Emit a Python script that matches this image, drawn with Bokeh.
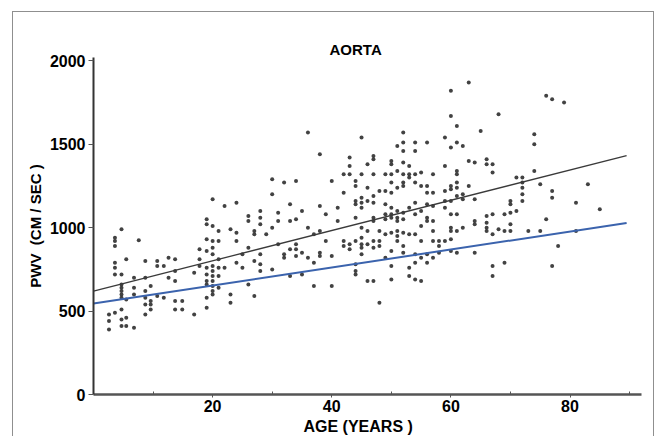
from bokeh.plotting import figure
from bokeh.models import Range1d, FixedTicker, Title
from bokeh.embed import file_html
from bokeh.resources import INLINE

# ---- data (age in years, PWV in cm/sec) ----
AGES = [2.6, 3.6, 4.7, 5.5, 6.8, 7.6, 8.7, 9.6, 10.7, 11.8, 12.6, 13.7, 14.9, 16.9, 17.8,
        19, 20, 21, 22, 23, 24, 25, 26, 27, 28, 29, 30, 31, 32, 33, 34, 35, 36, 37, 38, 39,
        40, 41, 42, 43, 44, 45, 46, 47, 48, 49, 50, 51, 52, 53, 54, 55, 56, 57, 58, 59,
        60, 61, 62, 63, 64, 65, 66, 67, 68, 69, 70, 71, 72, 73, 74, 75, 76, 77, 78, 79,
        81, 83, 85]

PWV_BY_AGE = [
    [480, 440, 390],
    [940, 920, 890, 790, 760, 720, 490],
    [990, 720, 660, 640, 620, 600, 580, 510, 450, 410],
    [810, 570, 460, 410],
    [700, 640, 600, 400],
    [925],
    [800, 700, 620, 580, 540, 480],
    [650, 560, 540, 510],
    [800, 770, 590],
    [770, 580],
    [820, 700],
    [810, 740, 680, 560, 510],
    [560, 510],
    [480, 730],
    [870, 810, 770],
    [1050, 1020, 930, 860, 760, 720, 680, 660, 580, 520],
    [1170, 1010, 920, 880, 840, 770, 740, 710, 680, 650, 620, 600],
    [980, 920, 810, 760, 710, 640],
    [1130, 760],
    [990, 600, 550],
    [1150, 970, 920, 790],
    [760, 840],
    [1070, 1040, 880, 660],
    [980, 960, 800, 590],
    [1100, 1060, 1020, 840, 780, 740],
    [960],
    [1290, 1200, 1000, 750],
    [1090, 1040, 900],
    [1270, 840, 820],
    [1140, 1040, 870, 710],
    [1280, 1050, 900, 870, 830],
    [1100, 850, 720],
    [1570, 1000, 820],
    [960, 650, 790],
    [1440, 1130, 980, 850, 830],
    [1080, 920],
    [830, 650, 1280],
    [1120, 1040],
    [1210, 920, 890, 1320],
    [1420, 1370, 1320, 900, 870],
    [1280, 1250, 1160, 1140, 1060, 920, 740, 720, 780],
    [1540, 1320, 1180, 1150, 1120, 1000, 940, 900, 880, 840],
    [1380, 1240, 1160, 980, 900, 680],
    [1430, 1410, 1320, 1190, 1150, 1060, 1040, 920, 880, 680],
    [1220, 980, 920, 890, 550],
    [1320, 1220, 1140, 1080, 1050, 960, 820],
    [1400, 1380, 1320, 1270, 1210, 1120, 1080, 1060, 970, 860, 770, 690],
    [1490, 1340, 1240, 1100, 1060, 1040, 980, 950, 920],
    [1570, 1510, 1460, 1390, 1320, 1270, 1250, 1090, 1050, 970, 890, 850],
    [1370, 1320, 1300, 1120, 960, 760, 710],
    [1510, 1460, 1320, 1270, 1150, 1080, 960, 840, 790, 690],
    [1330, 1250, 1100, 1010, 920, 820, 680],
    [1510, 1250, 1210, 1140, 1060, 1040, 840, 790],
    [1320, 1210, 1130, 1040, 980, 920, 820],
    [920, 890, 850],
    [1540, 1370, 1220, 1160, 1120, 920],
    [1820, 1670, 1480, 1250, 1230, 1160, 1080, 1000, 980, 930, 860],
    [1610, 1510, 1340, 1320, 1270, 1240, 1190, 1080, 980, 850],
    [1490, 1200, 1170, 1000],
    [1870, 1400, 1250],
    [1390, 1170, 1040, 1020, 850],
    [1580],
    [1410, 1380, 1070, 1030, 1000, 980],
    [1380, 1330, 1080, 960, 770, 710],
    [1680, 990],
    [1080, 980, 790],
    [1160, 1140, 1090, 1020, 980],
    [1300, 1100],
    [1300, 1270, 1240, 1200, 1160],
    [980],
    [1560, 1500, 1340],
    [980, 1260],
    [1790, 1050],
    [1770, 1220, 1180, 770],
    [890],
    [1750],
    [1150, 980],
    [1260],
    [1110],
]

FIT_AGE = [0, 89.5]
FIT_BLACK = [620, 1432]
FIT_BLUE = [546, 1028]

X_TICKS = [20, 40, 60, 80]
X_MINOR = [10, 30, 50, 70, 90]
Y_TICKS = [0, 500, 1000, 1500, 2000]

TITLE = "AORTA"
X_LABEL = "AGE (YEARS )"
Y_LABEL = "PWV \u00a0(CM / SEC )"

# ---- flatten ----
ages, pwvs = [], []
for a, vals in zip(AGES, PWV_BY_AGE):
    for v in vals:
        ages.append(a)
        pwvs.append(v)

FONT = "Liberation Sans"

p = figure(width=642, height=425, x_range=Range1d(0, 92), y_range=Range1d(0, 2020),
           output_backend="svg", toolbar_location=None,
           min_border_left=80, min_border_right=14, min_border_top=45, min_border_bottom=43)
p.styles = {"transform": "translate(12px, 11px)",
            "border-left": "1px solid #8f8f8f", "border-top": "1px solid #8f8f8f",
            "border-right": "1px solid #8f8f8f"}
p.background_fill_color = "white"
p.border_fill_color = "white"
p.outline_line_color = None
p.grid.visible = False

p.scatter(ages, pwvs, marker="circle", size=4, fill_color="#2e2e2e",
          line_color=None, fill_alpha=0.9)

p.line(FIT_AGE, FIT_BLACK, line_color="#3a3a3a", line_width=1.3)
p.line(FIT_AGE, FIT_BLUE, line_color="#3b63ad", line_width=2)

for ax in (p.xaxis[0], p.yaxis[0]):
    ax.major_label_text_font = FONT
    ax.major_label_text_font_style = "bold"
    ax.major_label_text_font_size = "16px"
    ax.major_label_text_color = "black"

xa = p.xaxis[0]
xa.ticker = FixedTicker(ticks=X_TICKS, minor_ticks=X_MINOR)
xa.axis_line_width = 2.5
xa.axis_line_color = "#555555"
xa.major_tick_out = 3
xa.major_tick_in = 0
xa.minor_tick_in = 3
xa.minor_tick_out = 0
xa.major_tick_line_color = "#555555"
xa.minor_tick_line_color = "#555555"
xa.major_label_standoff = 2

ya = p.yaxis[0]
ya.ticker = FixedTicker(ticks=Y_TICKS)
ya.axis_line_width = 2
ya.axis_line_color = "#333333"
ya.major_tick_out = 5
ya.major_tick_in = 0
ya.major_tick_line_color = "#555555"
ya.minor_tick_line_color = None
ya.major_label_standoff = 3
ya.axis_label = Y_LABEL
ya.axis_label_text_font = FONT
ya.axis_label_text_font_style = "bold"
ya.axis_label_text_font_size = "15px"
ya.axis_label_text_color = "black"
ya.axis_label_standoff = 3

p.title.text = TITLE
p.title.align = "left"
p.title.offset = 236
p.title.standoff = 0
p.title.text_font = FONT
p.title.text_font_style = "bold"
p.title.text_font_size = "15px"
p.title.text_color = "black"

p.add_layout(Title(text=X_LABEL, align="left", offset=210, standoff=3,
                   text_font=FONT, text_font_style="bold", text_font_size="16px",
                   text_color="black"), "below")

open("out.html", "w").write(file_html(p, INLINE))
